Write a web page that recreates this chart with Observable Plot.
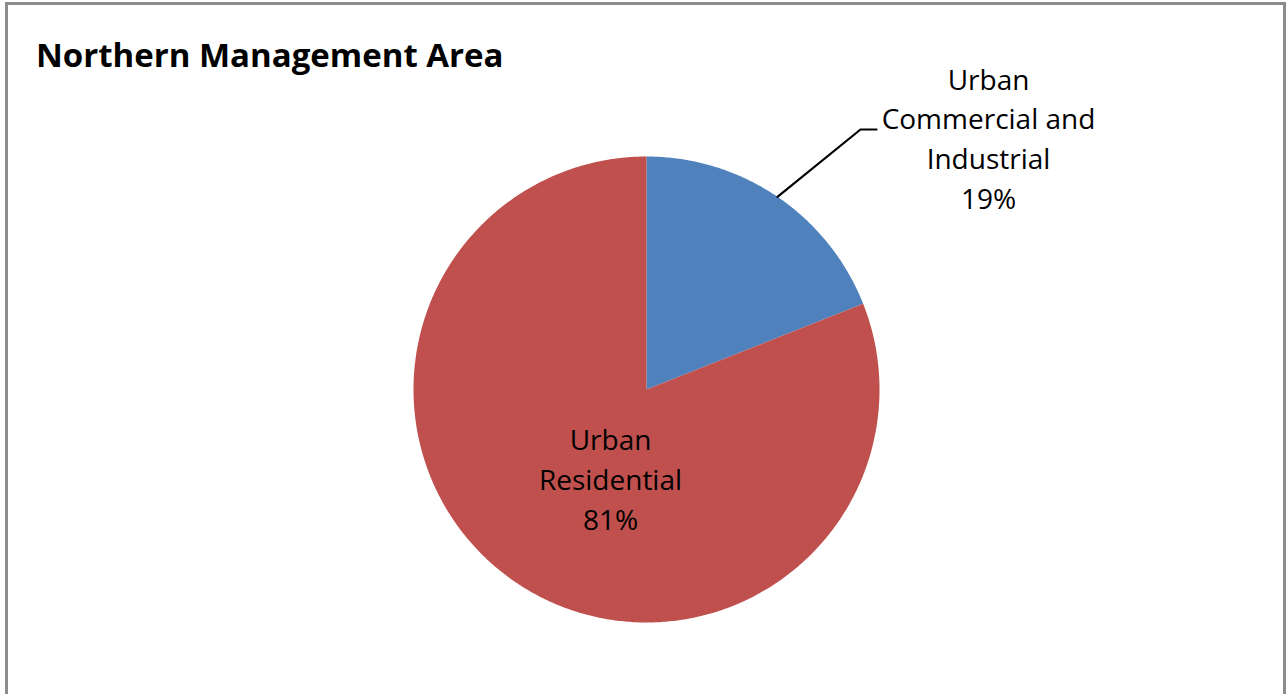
<!DOCTYPE html>
<html><head><meta charset="utf-8">
<script src="https://cdn.jsdelivr.net/npm/d3@7"></script>
<script src="https://cdn.jsdelivr.net/npm/@observablehq/plot@0.6"></script>
<style>
body{margin:0;background:#fff;}
#wrap{position:relative;width:1286px;height:694px;overflow:hidden;background:#fff;}
#border{position:absolute;left:5px;top:2px;width:1275px;height:720px;border:3px solid #8c8c8c;pointer-events:none;}
#chart{position:absolute;left:0;top:0;}
#title{position:absolute;left:36px;top:35px;font-family:"Open Sans",sans-serif;font-weight:bold;font-size:33px;line-height:40px;color:#000;white-space:nowrap;}
</style></head><body>
<div id="wrap"><div id="chart"></div><div id="title"></div><div id="border"></div></div>
<script>
const title = "Northern Management Area";
const categories = ["Urban Commercial and Industrial", "Urban Residential"];
const labelLines = ["Urban\nCommercial and\nIndustrial", "Urban\nResidential"];
const shares = [19, 81];
const colors = ["#4F81BD", "#C0504D"];

document.getElementById("title").textContent = title;

// layout (pixels)
const W = 1286, H = 694, CX = 646, CY = 389, R = 233;
const px = (x) => (x - CX) / R;        // pixel -> unit x
const py = (y) => (CY - y) / R;        // pixel -> unit y

const arcs = d3.pie().sort(null).value(d => d)(shares);

// slice polygons
const slicePts = [];
arcs.forEach((a, i) => {
  const cat = categories[i];
  slicePts.push({cat, x: 0, y: 0});
  const n = Math.max(2, Math.ceil((a.endAngle - a.startAngle) / (Math.PI / 360)));
  for (let k = 0; k <= n; k++) {
    const t = a.startAngle + (a.endAngle - a.startAngle) * k / n;
    slicePts.push({cat, x: Math.sin(t), y: Math.cos(t)});
  }
  slicePts.push({cat, x: 0, y: 0});
});

// label positions (outside for first slice, inside for second)
const labelPos = [[988, 136], [610, 477]];
const labels = arcs.map((a, i) => ({
  text: `${labelLines[i]}\n${shares[i]}%`,
  x: px(labelPos[i][0]), y: py(labelPos[i][1])
}));

// leader line for the first slice: from arc mid-point to the label
const mid0 = (arcs[0].startAngle + arcs[0].endAngle) / 2;
const leader = [
  {x: Math.sin(mid0), y: Math.cos(mid0)},
  {x: px(860), y: py(129)},
  {x: px(876), y: py(129)}
];

const chart = Plot.plot({
  width: W, height: H,
  margin: 0,
  x: {domain: [px(0), px(W)], range: [0, W], axis: null},
  y: {domain: [py(H), py(0)], range: [H, 0], axis: null},
  color: {domain: categories, range: colors},
  style: {background: "transparent"},
  marks: [
    Plot.line(slicePts, {x: "x", y: "y", z: "cat", fill: "cat", stroke: "none", curve: "linear"}),
    Plot.line(leader, {x: "x", y: "y", stroke: "#000", strokeWidth: 2.2}),
    Plot.text(labels, {x: "x", y: "y", text: "text", fontFamily: "'Open Sans', sans-serif", fontSize: 28, lineHeight: 1.42, fill: "#000", textAnchor: "middle", lineAnchor: "middle"})
  ]
});
document.getElementById("chart").appendChild(chart);
</script>
</body></html>
